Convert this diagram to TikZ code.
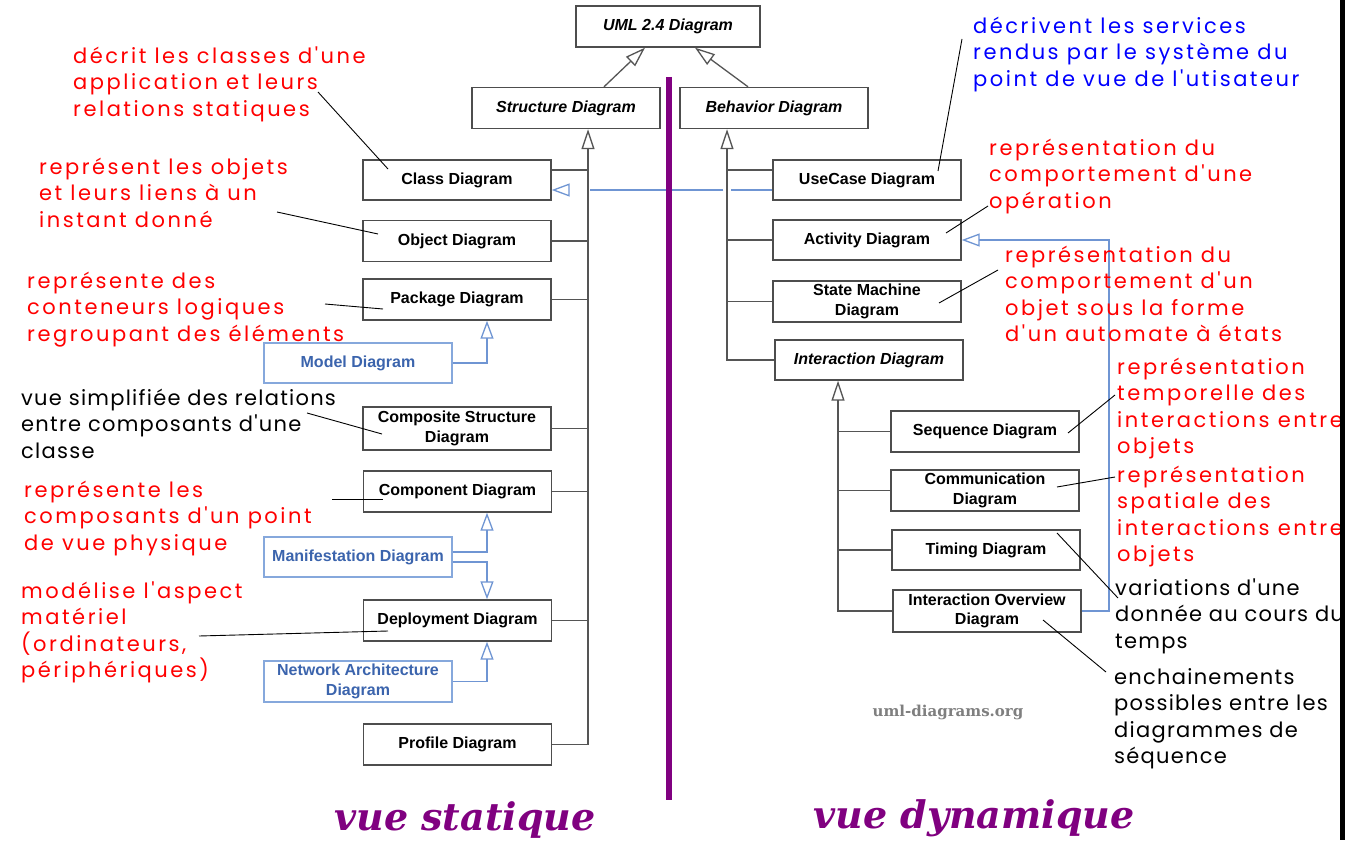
\documentclass[tikz,border=0pt]{standalone}
\usepackage{fontspec}
\setmainfont{Liberation Sans}
\newfontfamily\handfont[LetterSpace=12]{Poppins}
\newfontfamily\handfontb[LetterSpace=6]{Poppins}
\newfontfamily\titlefont{DejaVu Serif}
\newfontfamily\markfont{DejaVu Serif}
\usetikzlibrary{arrows.meta}
\definecolor{boxgray}{HTML}{4D4D4D}
\definecolor{conngray}{HTML}{555555}
\definecolor{umlborder}{HTML}{86A8DC}
\definecolor{umltext}{HTML}{3B64AD}
\definecolor{umlline}{HTML}{6F95D3}
\definecolor{notered}{HTML}{FF0000}
\definecolor{noteblue}{HTML}{0000FF}
\definecolor{vuepurple}{HTML}{800080}
\definecolor{wmgray}{HTML}{7F7F7F}
\newcommand\hstrut{\rule{0pt}{22pt}}
\begin{document}
\begin{tikzpicture}[x=1pt,y=-1pt]
\tikzset{
 box/.style={draw=boxgray, line width=1.4pt, fill=white, minimum width=188pt, minimum height=41pt, inner sep=0pt, align=center, font=\bfseries\fontsize{16}{19.5}\selectfont, text=black},
 ibox/.style={box, font=\bfseries\itshape\fontsize{16}{19.5}\selectfont},
 bbox/.style={box, draw=umlborder, line width=1.2pt, text=umltext},
 conn/.style={draw=conngray, line width=1.3pt},
 gen/.style={conn, -{Triangle[open, length=20pt, width=13pt]}},
 bconn/.style={draw=umlline, line width=1.3pt},
 bgen/.style={bconn, -{Triangle[open, length=18pt, width=13pt]}},
 lead/.style={draw=black, line width=0.9pt},
 note/.style={anchor=north west, inner sep=0pt, align=left, font=\handfont\fontsize{21}{26.5}\selectfont},
 noteb/.style={note, text=black, font=\handfontb\fontsize{21}{26.5}\selectfont},
 title/.style={anchor=base, inner sep=0pt, text=vuepurple, font=\titlefont\bfseries\itshape\fontsize{38}{44}\selectfont},
}
\useasboundingbox (0,0) rectangle (1345,848);
\fill[white] (0,0) rectangle (1345,848);

% ---- boxes ----
\node[ibox, minimum width=184pt] (uml) at (668,26.5) {UML 2.4 Diagram};
\node[ibox] (struct) at (566,108) {Structure Diagram};
\node[ibox] (behav) at (774,108) {Behavior Diagram};

\node[box, minimum height=40pt] (class) at (457,180) {Class Diagram};
\node[box] (object) at (457,241) {Object Diagram};
\node[box] (package) at (457,299.5) {Package Diagram};
\node[bbox, minimum height=40pt] (model) at (358,363) {Model Diagram};
\node[box, minimum height=43pt] (composite) at (457,428.5) {Composite Structure\\Diagram};
\node[box] (component) at (457.5,491.5) {Component Diagram};
\node[bbox, minimum height=40pt] (manif) at (358,557) {Manifestation Diagram};
\node[box] (deploy) at (457.5,620.5) {Deployment Diagram};
\node[bbox] (network) at (358,681.5) {Network Architecture\\Diagram};
\node[box] (profile) at (457.5,744.5) {Profile Diagram};

\node[box, minimum height=40pt] (usecase) at (867,180) {UseCase Diagram};
\node[box, minimum height=40pt] (activity) at (867,240) {Activity Diagram};
\node[box] (state) at (867,301.5) {State Machine\\Diagram};
\node[ibox, minimum height=40pt] (interaction) at (869,360) {Interaction Diagram};
\node[box] (sequence) at (985,431.5) {Sequence Diagram};
\node[box] (comm) at (985,490.5) {Communication\\Diagram};
\node[box, minimum height=40pt] (timing) at (986,550) {Timing Diagram};
\node[box, minimum height=42pt] (io) at (987,611) {Interaction Overview\\Diagram};

% ---- trunk coordinates ----
\coordinate (strunk) at (588,0);
\coordinate (btrunk) at (727,0);
\coordinate (itrunk) at (838,0);
\coordinate (bx) at (487,0);
\coordinate (bv) at (1109,0);

% ---- generalizations to UML ----
\draw[gen] ([xshift=38pt]struct.north) -- ([xshift=-23pt]uml.south);
\draw[gen] ([xshift=-26pt]behav.north) -- ([xshift=27pt]uml.south);

% ---- structure trunk ----
\draw[gen] (profile.east) -| (strunk |- struct.south);
\coordinate (classc) at ([yshift=10pt]class.east);
\draw[conn] (classc) -- (classc -| strunk);
\draw[conn] (object.east) -- (object.east -| strunk);
\draw[conn] (package.east) -- (package.east -| strunk);
\draw[conn] (composite.east) -- (composite.east -| strunk);
\draw[conn] (component.east) -- (component.east -| strunk);
\draw[conn] (deploy.east) -- (deploy.east -| strunk);

% ---- behavior trunk ----
\draw[gen] (interaction.west) -| (btrunk |- behav.south);
\coordinate (usec) at ([yshift=10pt]usecase.west);
\draw[conn] (usec) -- (usec -| btrunk);
\draw[conn] (activity.west) -- (activity.west -| btrunk);
\draw[conn] (state.west) -- (state.west -| btrunk);

% ---- interaction trunk ----
\draw[gen] (io.west) -| (itrunk |- interaction.south);
\draw[conn] (sequence.west) -- (sequence.west -| itrunk);
\draw[conn] (comm.west) -- (comm.west -| itrunk);
\draw[conn] (timing.west) -- (timing.west -| itrunk);

% ---- blue relations ----
\draw[bgen] (model.east) -| (bx |- package.south);
\draw[bgen] ([yshift=5pt]manif.east) -| (bx |- component.south);
\draw[bgen] ([yshift=-5pt]manif.east) -| (bx |- deploy.north);
\draw[bgen] (network.east) -| (bx |- deploy.south);
\draw[bgen] (io.east) -- (io.east -| bv) -- (bv |- activity.east) -- (activity.east);
\draw[bgen, dash pattern=on 41pt off 8pt on 133pt off 40pt] ([yshift=-10pt]usecase.west) -- ([yshift=-10pt]class.east);

% ---- purple separator ----
\draw[vuepurple, line width=6pt] (669,77) -- (669,800);

% ---- annotations ----
\node[note, text=notered] (n1) at (73,41) {\hstrut décrit les classes d'une\\application et leurs\\relations statiques};
\node[note, text=notered] (n2) at (39,152) {\hstrut représent les objets\\et leurs liens à un\\instant donné};
\node[note, text=notered] (n3) at (27,266) {\hstrut représente des\\conteneurs logiques\\regroupant des éléments};
\node[noteb] (n4) at (21,383) {\hstrut vue simplifiée des relations\\entre composants d'une\\classe};
\node[note, text=notered] (n5) at (24,475) {\hstrut représente les\\composants d'un point\\de vue physique};
\node[note, text=notered] (n6) at (21,576) {\hstrut modélise l'aspect\\matériel\\(ordinateurs,\\périphériques)};
\node[note, text=noteblue] (n7) at (973,11) {\hstrut décrivent les services\\rendus par le système du\\point de vue de l'utisateur};
\node[note, text=notered] (n8) at (989,133) {\hstrut représentation du\\comportement d'une\\opération};
\node[note, text=notered] (n9) at (1005,240) {\hstrut représentation du\\comportement d'un\\objet sous la forme\\d'un automate à états};
\node[note, text=notered] (n10) at (1117,352) {\hstrut représentation\\temporelle des\\interactions entre\\objets};
\node[note, text=notered] (n11) at (1117,460) {\hstrut représentation\\spatiale des\\interactions entre\\objets};
\node[noteb] (n12) at (1115,573) {\hstrut variations d'une\\donnée au cours du\\temps};
\node[noteb] (n13) at (1114,662) {\hstrut enchainements\\possibles entre les\\diagrammes de\\séquence};

% ---- leader lines ----
\coordinate (l1a) at (318,92);   \coordinate (l1b) at (388,169);
\coordinate (l2a) at (277,212);  \coordinate (l2b) at (378,234);
\coordinate (l3a) at (325,304);  \coordinate (l3b) at (383,309);
\coordinate (l4a) at (307,413);  \coordinate (l4b) at (382,434);
\coordinate (l5a) at (332,499);  \coordinate (l5b) at (383,499);
\coordinate (l6a) at (199,636);  \coordinate (l6b) at (388,631);
\coordinate (l7a) at (962,39);   \coordinate (l7b) at (938,171);
\coordinate (l8a) at (988,206);  \coordinate (l8b) at (946,233);
\coordinate (l9a) at (998,270);  \coordinate (l9b) at (939,303);
\coordinate (l10a) at (1115,395); \coordinate (l10b) at (1068,433);
\coordinate (l11a) at (1115,477); \coordinate (l11b) at (1057,487);
\coordinate (l12a) at (1057,533); \coordinate (l12b) at (1118,598);
\coordinate (l13a) at (1043,620); \coordinate (l13b) at (1106,672);
\foreach \i in {1,...,13} {\draw[lead] (l\i a) -- (l\i b);}

% ---- watermark and titles ----
\node[font=\markfont\bfseries\fontsize{15}{18}\selectfont, text=wmgray] (wm) at (948,712) {uml-diagrams.org};
\node[title] (vs) at (465,830) {vue statique};
\node[title] (vd) at (974,828) {vue dynamique};

% ---- right edge bar ----
\fill[black] (1340,0) rectangle (1345,840);
\end{tikzpicture}
\end{document}
